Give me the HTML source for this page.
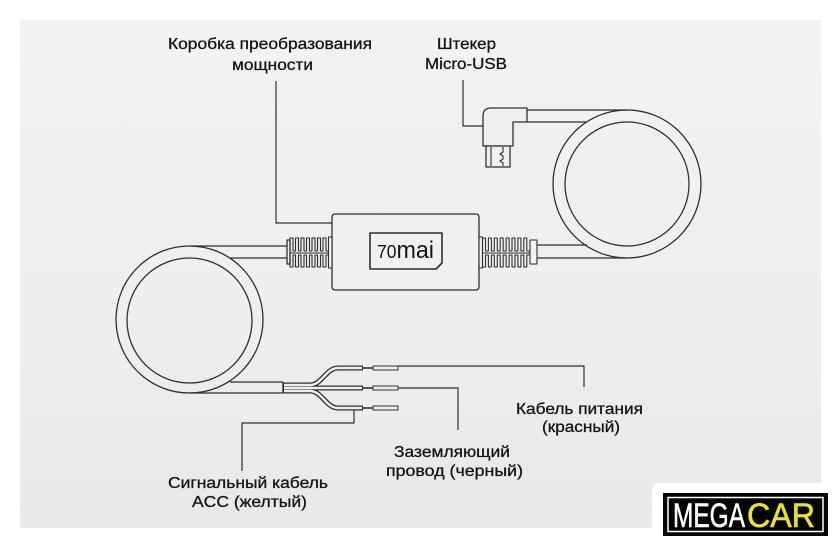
<!DOCTYPE html>
<html>
<head>
<meta charset="utf-8">
<style>
  html,body{margin:0;padding:0;background:#fff;}
  body{width:840px;height:549px;overflow:hidden;}
  svg{display:block;}
  text{font-family:"Liberation Sans",Arial,sans-serif;fill:#141414;}
</style>
</head>
<body>
<svg width="840" height="549" viewBox="0 0 840 549" xmlns="http://www.w3.org/2000/svg">
  <defs>
    <linearGradient id="bg" x1="0" y1="0" x2="0" y2="1">
      <stop offset="0" stop-color="#f2f2f2"/>
      <stop offset="0.6" stop-color="#eeeeee"/>
      <stop offset="1" stop-color="#e8e8e8"/>
    </linearGradient>
  </defs>
  <rect x="0" y="0" width="840" height="549" fill="#ffffff"/>
  <rect x="20" y="20" width="801" height="508" fill="url(#bg)"/>

  <g fill="none" stroke="#2e2e2e" stroke-width="1.3" stroke-linejoin="round">
    <!-- right coil -->
    <circle cx="627" cy="184" r="74"/>
    <circle cx="627" cy="184" r="62"/>
    <path d="M527,110 H627 M527,122 H587 M537,245 H587 M537,258 H627"/>

    <!-- left coil -->
    <circle cx="189.5" cy="319.5" r="73.5"/>
    <circle cx="189.5" cy="320.5" r="62.5"/>
    <path d="M190,246 H287 M230,258 H287 M230,382 H283 M190,393 H283 M283,382 V393"/>

    <!-- box -->
    <rect x="332" y="214" width="147" height="76" rx="3" fill="#f0f0f0"/>
    <path d="M370,233 H442 V263 L436,269 H370 Z" stroke-width="1.6"/>

    <!-- left crimp -->
    <rect x="287" y="240" width="3" height="24" fill="#f0f0f0"/>
    <path d="M290,251 L290,238 L293,238 L293,251 L295.5,251 L295.5,238 L298.5,238 L298.5,251 L301,251 L301,238 L304,238 L304,251 L306.5,251 L306.5,238 L309.5,238 L309.5,251 L312,251 L312,238 L315,238 L315,251 L317.5,251 L317.5,238 L320.5,238 L320.5,251 L323,251 L323,238 L326,238 L326,251 L328.5,251" stroke-width="1.1"/>
    <path d="M290,255 L290,267 L293,267 L293,255 L295.5,255 L295.5,267 L298.5,267 L298.5,255 L301,255 L301,267 L304,267 L304,255 L306.5,255 L306.5,267 L309.5,267 L309.5,255 L312,255 L312,267 L315,267 L315,255 L317.5,255 L317.5,267 L320.5,267 L320.5,255 L323,255 L323,267 L326,267 L326,255 L328.5,255" stroke-width="1.1"/>
    <path d="M290,253 H329" stroke-width="1"/>
    <rect x="328.5" y="237" width="3.5" height="31" fill="#f0f0f0" stroke-width="1.1"/>

    <!-- right crimp -->
    <rect x="479" y="237" width="3.5" height="31" fill="#f0f0f0" stroke-width="1.1"/>
    <path d="M482.5,251 L482.5,238 L485.5,238 L485.5,251 L488.4,251 L488.4,238 L491.4,238 L491.4,251 L494.3,251 L494.3,238 L497.3,238 L497.3,251 L500.2,251 L500.2,238 L503.2,238 L503.2,251 L506.1,251 L506.1,238 L509.1,238 L509.1,251 L512,251 L512,238 L515,238 L515,251 L517.9,251 L517.9,238 L520.9,238 L520.9,251 L523.8,251 L523.8,238 L526.8,238 L526.8,251 L530,251" stroke-width="1.1"/>
    <path d="M482.5,255 L482.5,267 L485.5,267 L485.5,255 L488.4,255 L488.4,267 L491.4,267 L491.4,255 L494.3,255 L494.3,267 L497.3,267 L497.3,255 L500.2,255 L500.2,267 L503.2,267 L503.2,255 L506.1,255 L506.1,267 L509.1,267 L509.1,255 L512,255 L512,267 L515,267 L515,255 L517.9,255 L517.9,267 L520.9,267 L520.9,255 L523.8,255 L523.8,267 L526.8,267 L526.8,255 L530,255" stroke-width="1.1"/>
    <path d="M482,253 H530" stroke-width="1"/>
    <rect x="530" y="240" width="7" height="24" fill="#f0f0f0" stroke-width="1.1"/>

    <!-- USB plug -->
    <path d="M483,146 V116 Q483,108 491,108 H527 V122 H513 V146 Z" fill="#f0f0f0"/>
    <rect x="486" y="146" width="24" height="21" fill="#f0f0f0"/>
    <path d="M491,147 V166 M503,147 V152 L500,154 L503,156 V159 L500,161 L503,163 V166" stroke-width="1.1"/>

    <!-- leader lines -->
    <path d="M276,81 V223 H332" stroke-width="1.2"/>
    <path d="M463,80 V126 H483" stroke-width="1.2"/>
    <path d="M398,366 H584 V387" stroke-width="1.2"/>
    <path d="M398,388 H458 V430" stroke-width="1.2"/>
    <path d="M354,410 V423 H242 V471" stroke-width="1.2"/>
  </g>

  <!-- wires -->
  <g fill="none" stroke-linecap="butt">
    <g stroke="#2e2e2e" stroke-width="5">
      <path d="M283,385 H310 C322,385 326,368 338,368 H363"/>
      <path d="M283,388 H363"/>
      <path d="M283,391 H310 C322,391 326,408 338,408 H363"/>
    </g>
    <g stroke="#eeeeee" stroke-width="2.4">
      <path d="M284,385 H310 C322,385 326,368 338,368 H362"/>
      <path d="M284,388 H362"/>
      <path d="M284,391 H310 C322,391 326,408 338,408 H362"/>
    </g>
    <g stroke="#222" stroke-width="1.6">
      <path d="M363,368 H373 M363,388 H373 M363,408 H373"/>
    </g>
    <g stroke="#333" stroke-width="1" fill="#ececec">
      <rect x="373" y="366" width="25" height="4"/>
      <rect x="373" y="386" width="25" height="4"/>
      <rect x="373" y="406" width="25" height="4"/>
    </g>
  </g>

  <!-- logo text -->
  <text x="377" y="258" textLength="57" lengthAdjust="spacingAndGlyphs" fill="#222"><tspan font-size="18">70</tspan><tspan font-size="24">mai</tspan></text>

  <!-- labels -->
  <g font-size="15.8" stroke="#141414" stroke-width="0.3">
    <text x="168" y="49" textLength="204" lengthAdjust="spacingAndGlyphs">Коробка преобразования</text>
    <text x="232" y="70" textLength="81" lengthAdjust="spacingAndGlyphs">мощности</text>
    <text x="437" y="49" textLength="59" lengthAdjust="spacingAndGlyphs">Штекер</text>
    <text x="425" y="69" textLength="82" lengthAdjust="spacingAndGlyphs">Micro-USB</text>
    <text x="516" y="414" textLength="127" lengthAdjust="spacingAndGlyphs">Кабель питания</text>
    <text x="542" y="432" textLength="78" lengthAdjust="spacingAndGlyphs">(красный)</text>
    <text x="394" y="457" textLength="116" lengthAdjust="spacingAndGlyphs">Заземляющий</text>
    <text x="386" y="476" textLength="137" lengthAdjust="spacingAndGlyphs">провод (черный)</text>
    <text x="168" y="488" textLength="160" lengthAdjust="spacingAndGlyphs">Сигнальный кабель</text>
    <text x="192" y="507" textLength="115" lengthAdjust="spacingAndGlyphs">ACC (желтый)</text>
  </g>

  <!-- MEGACAR badge -->
  <path d="M652,549 V491 Q652,483 660,483 H840 V549 Z" fill="#ffffff"/>
  <rect x="663" y="493" width="165" height="43" fill="#050505"/>
  <rect x="668" y="497.5" width="155" height="34" fill="none" stroke="#ffffff" stroke-width="1.5"/>
  <text x="673" y="527" font-size="34" textLength="72" lengthAdjust="spacingAndGlyphs" style="fill:#ffffff;stroke:#ffffff;stroke-width:0.6">MEGA</text>
  <text x="747" y="527" font-size="34" textLength="68" lengthAdjust="spacingAndGlyphs" style="fill:#ece41e;stroke:#ece41e;stroke-width:0.6">CAR</text>
</svg>
</body>
</html>
